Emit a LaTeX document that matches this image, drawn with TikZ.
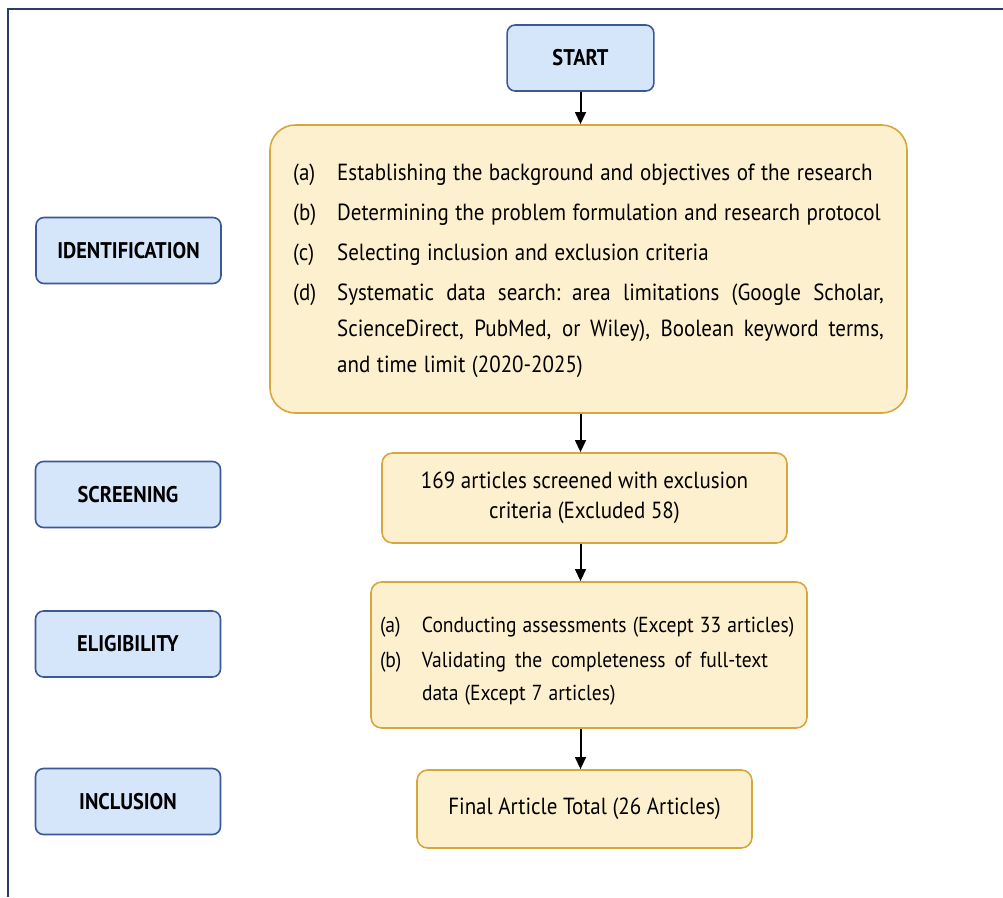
\documentclass[tikz,border=0pt]{standalone}
\usepackage{fontspec}
\setmainfont{PT Sans}[FakeStretch=0.9]
\usetikzlibrary{arrows.meta}

\definecolor{stagefill}{HTML}{D5E5FA}
\definecolor{stageline}{HTML}{3A5996}
\definecolor{stepfill}{HTML}{FDF0CE}
\definecolor{stepline}{HTML}{D7A73E}
\definecolor{frameblue}{HTML}{2B3B6E}

\begin{document}
\begin{tikzpicture}[x=0.75pt,y=-0.75pt,
  stage/.style={draw=stageline,fill=stagefill,line width=1.2pt,rounded corners=6pt,
    minimum width=138.75pt,minimum height=49.5pt,inner sep=0pt,
    font=\fontsize{17}{20}\selectfont\bfseries},
  stepbox/.style={draw=stepline,fill=stepfill,line width=1.2pt,rounded corners=8pt,
    inner sep=0pt,font=\fontsize{17.5}{27}\selectfont},
  flow/.style={draw,line width=1.5pt,-{Triangle[length=9pt,width=8pt]}}]
\useasboundingbox (0,0) rectangle (1003,897);
\draw[frameblue,line width=1.8pt] (8,897) -- (8,9) -- (1003,9);

% stage labels
\node[stage] (lident) at (128.5,250.5) {IDENTIFICATION};
\node[stage] (lscreen) at (128,494.5) {SCREENING};
\node[stage] (leligible) at (128,644) {ELIGIBILITY};
\node[stage] (linclude) at (128,801.5) {INCLUSION};

% flow boxes
\node[stage,minimum width=110pt] (start) at (580.5,58) {START};

\node[stepbox,text width=443pt,inner xsep=17.4pt,minimum height=216pt,rounded corners=19pt] (ident) at (588.5,269) {\noindent
\spaceskip=.28em plus .3em minus .05em
\begin{tabular}{@{}p{33pt}@{}p{410pt}@{}}
(a) & Establishing the background and objectives of the research\\[3pt]
(b) & Determining the problem formulation and research protocol\\[3pt]
(c) & Selecting inclusion and exclusion criteria\\[3pt]
(d) & Systematic data search: area limitations (Google Scholar,\linebreak ScienceDirect, PubMed, or Wiley), Boolean keyword terms,\linebreak and time limit (2020-2025)
\end{tabular}};

\node[stepbox,minimum width=303.75pt,minimum height=67.5pt,align=center,
  font=\fontsize{17.5}{22.5}\selectfont] (screen) at (584.5,498)
  {169 articles screened with exclusion\\criteria (Excluded 58)};

\node[stepbox,text width=313.5pt,inner xsep=6.75pt,minimum height=109.5pt,
  font=\fontsize{16.3}{25}\selectfont] (eligible) at (589,655) {\noindent
\spaceskip=.28em plus .3em minus .05em
\begin{tabular}{@{}p{31.5pt}@{}p{259.5pt}@{}}
\rule{0pt}{25pt}(a) & \mbox{Conducting assessments (Except 33 articles)}\\[1pt]
(b) & Validating the completeness of full-text\linebreak data (Except 7 articles)
\end{tabular}};

\node[stepbox,minimum width=251.25pt,minimum height=58.5pt] (include) at (584.5,809)
  {Final Article Total (26 Articles)};

% arrows
\path[flow] (start) -- (start |- ident.north);
\path[flow] (ident.south -| start) -- (screen.north -| start);
\path[flow] (screen.south -| start) -- (eligible.north -| start);
\path[flow] (eligible.south -| start) -- (include.north -| start);
\end{tikzpicture}
\end{document}
